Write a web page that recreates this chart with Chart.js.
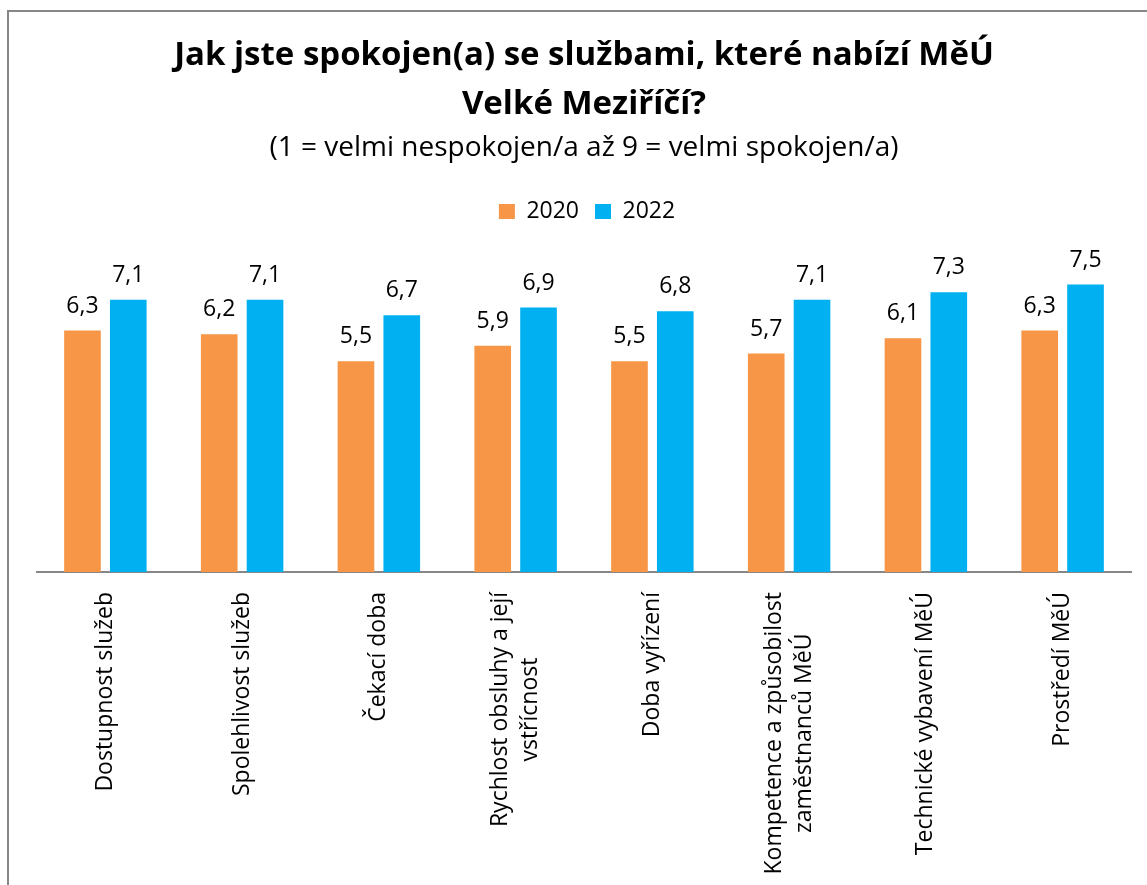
<!DOCTYPE html>
<html><head><meta charset="utf-8">
<script src="https://cdn.jsdelivr.net/npm/chart.js@4.4.1/dist/chart.umd.min.js"></script>
<style>
html,body{margin:0;padding:0;background:#fff;overflow:hidden;width:1147px;height:885px;}
#frame{position:absolute;left:7px;top:10px;width:1200px;height:1000px;border:2px solid #878787;box-sizing:border-box;}
#c{position:absolute;left:9px;top:12px;}
</style></head><body>
<div id="frame"></div>
<canvas id="c" width="1150" height="873"></canvas>
<script>
const categories = [
  'Dostupnost služeb',
  'Spolehlivost služeb',
  'Čekací doba',
  ['Rychlost obsluhy a její', 'vstřícnost'],
  'Doba vyřízení',
  ['Kompetence a způsobilost', 'zaměstnanců MěÚ'],
  'Technické vybavení MěÚ',
  'Prostředí MěÚ'
];
const values2020 = [6.3, 6.2, 5.5, 5.9, 5.5, 5.7, 6.1, 6.3];
const values2022 = [7.1, 7.1, 6.7, 6.9, 6.8, 7.1, 7.3, 7.5];
const seriesNames = ['2020', '2022'];
const titleLines = ['Jak jste spokojen(a) se službami, které nabízí MěÚ', 'Velké Meziříčí?'];
const subtitleText = '(1 = velmi nespokojen/a až 9 = velmi spokojen/a)';

const FONT = "'Open Sans', sans-serif";
Chart.defaults.font.family = FONT;
Chart.defaults.color = '#000';

const valueLabels = {
  id: 'valueLabels',
  afterDatasetsDraw(chart) {
    const ctx = chart.ctx;
    ctx.save();
    ctx.font = '23px ' + FONT;
    ctx.fillStyle = '#000';
    ctx.textAlign = 'center';
    ctx.textBaseline = 'alphabetic';
    chart.data.datasets.forEach((ds, di) => {
      chart.getDatasetMeta(di).data.forEach((bar, i) => {
        ctx.fillText(ds.data[i].toFixed(1).replace('.', ','), bar.x, bar.y - 18);
      });
    });
    ctx.restore();
  }
};

const categoryLabels = {
  id: 'categoryLabels',
  afterDraw(chart) {
    const xs = chart.scales.x;
    const ctx = chart.ctx;
    ctx.save();
    ctx.font = '23px ' + FONT;
    ctx.fillStyle = '#000';
    ctx.textAlign = 'center';
    ctx.textBaseline = 'middle';
    const L = 30, gap = 20;
    chart.data.labels.forEach((lab, i) => {
      const lines = Array.isArray(lab) ? lab : [lab];
      const W = Math.max(...lines.map(s => ctx.measureText(s).width));
      const x = xs.getPixelForTick(i);
      ctx.save();
      ctx.translate(x, xs.top);
      ctx.rotate(-Math.PI / 2);
      lines.forEach((s, k) => ctx.fillText(s, -(gap + W / 2), (k - (lines.length - 1) / 2) * L));
      ctx.restore();
    });
    ctx.restore();
  }
};

const legendTrim = {
  id: 'legendTrim',
  beforeLayout(chart) {
    const lg = chart.legend;
    if (lg && !lg._trimmed) {
      const f = lg.fit.bind(lg);
      lg.fit = function () { f(); this.height = Math.max(0, this.height - 6); };
      lg._trimmed = true;
    }
  },
  afterLayout(chart) {
    const lg = chart.legend;
    if (lg) { lg.left += 3; lg.right += 3; }
  }
};

new Chart(document.getElementById('c'), {
  type: 'bar',
  data: {
    labels: categories,
    datasets: [
      { label: seriesNames[0], data: values2020, backgroundColor: '#F79646', borderWidth: 0 },
      { label: seriesNames[1], data: values2022, backgroundColor: '#00B0F0', borderWidth: 0 }
    ]
  },
  options: {
    responsive: false,
    animation: false,
    devicePixelRatio: 1,
    layout: { padding: { left: 28, right: 28, top: 0, bottom: 0 } },
    datasets: { bar: { barPercentage: 0.8, categoryPercentage: 0.67 } },
    scales: {
      x: {
        grid: { display: false },
        border: { display: true, color: '#878787', width: 2 },
        ticks: { display: false },
        afterFit(s) { s.height = 873 - 560; }
      },
      y: { display: false, min: 0, max: 9 }
    },
    plugins: {
      title: {
        display: true, text: titleLines, color: '#000',
        font: { family: FONT, size: 33, weight: 'bold', lineHeight: '49px' },
        padding: { top: 19, bottom: 0 }
      },
      subtitle: {
        display: true, text: subtitleText, color: '#000',
        font: { family: FONT, size: 28, lineHeight: '32px' },
        padding: { top: 3, bottom: 20 }
      },
      legend: {
        display: true, position: 'top',
        labels: { boxWidth: 16, boxHeight: 15, padding: 16, color: '#000', font: { family: FONT, size: 23 } }
      },
      tooltip: { enabled: false }
    }
  },
  plugins: [valueLabels, categoryLabels, legendTrim]
});
</script>
</body></html>
